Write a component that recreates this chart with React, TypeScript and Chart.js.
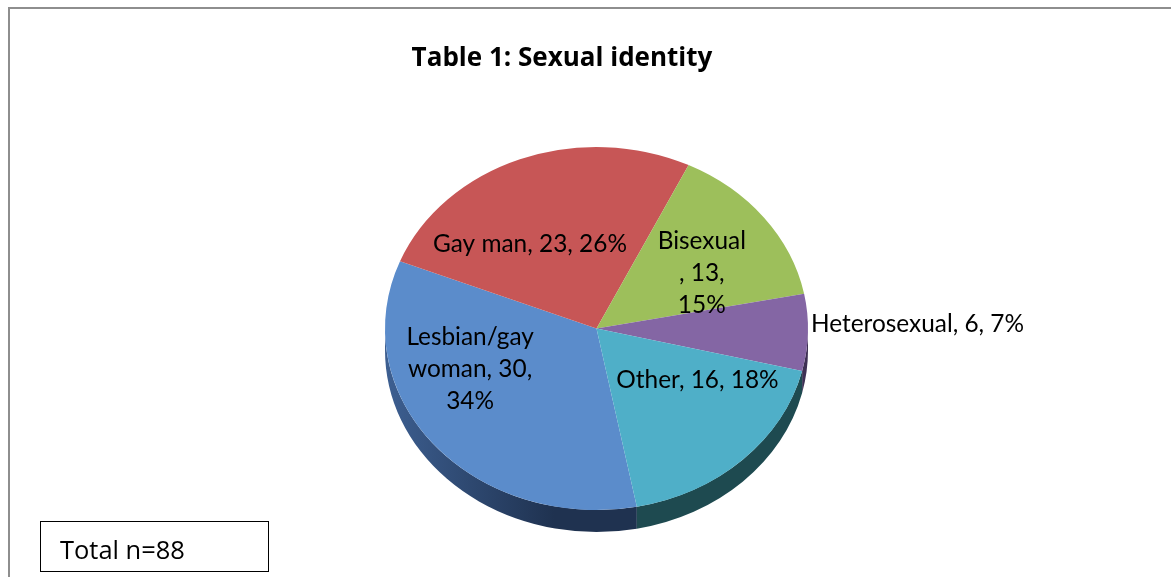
import React, { useEffect, useRef } from "react";
import { Chart, registerables } from "chart.js";

Chart.register(...registerables);

// ---- data ----
const titleText = "Table 1: Sexual identity";
const totalText = "Total n=88";
const categories = ["Lesbian/gay woman", "Gay man", "Bisexual", "Heterosexual", "Other"];
const counts = [30, 23, 13, 6, 16];
// label text as wrapped by the original chart
const labelLines = [
  ["Lesbian/gay", "woman, 30,", "34%"],
  ["Gay man, 23, 26%"],
  ["Bisexual", ", 13,", "15%"],
  ["Heterosexual, 6, 7%"],
  ["Other, 16, 18%"],
];

// ---- styles ----
const sliceColors = ["#5b8ccb", "#c75656", "#9dbf5b", "#8466a4", "#4fafc8"];
const sideColorsLight = ["#3d5f91", "#7a2f2e", "#5e7535", "#4d3b66", "#2a6571"];
const sideColorsDark = ["#1f3250", "#5a2322", "#465a28", "#3e3054", "#1e4a50"];
// label placement: angle shift from slice middle (deg), radius fraction, alignment
const labelShift = [19.4, -12.8, 5.6, -2.8, -15.8];
const labelRadius = [0.637, 0.562, 0.587, 1.0, 0.554];
const labelAlign: CanvasTextAlign[] = ["center", "center", "center", "left", "center"];

const LABEL_FONT = "Lato, 'Open Sans', sans-serif";
const TITLE_FONT = "'Open Sans', Lato, sans-serif";
const TILT = 181.5 / 211.5;
const DEPTH = 22;
const LINE_H = 32;
const CAP_H = 17;

function fitSize(ctx: CanvasRenderingContext2D, text: string, weight: string, family: string, targetW: number) {
  ctx.font = `${weight} 24px ${family}`;
  const w = ctx.measureText(text).width || 1;
  return (24 * targetW) / w;
}

const tiltPlugin = {
  id: "tilt3d",
  beforeDatasetsDraw(chart: any) {
    const meta = chart.getDatasetMeta(0);
    const arcs = meta.data;
    if (!arcs.length) return;
    const ctx: CanvasRenderingContext2D = chart.ctx;
    const { x, y, outerRadius } = arcs[0].getProps(["x", "y", "outerRadius"], true);
    const R = outerRadius;
    const ry = R * TILT;
    arcs.forEach((arc: any, i: number) => {
      const { startAngle, endAngle } = arc.getProps(["startAngle", "endAngle"], true);
      for (let k = -2; k <= 2; k++) {
        const s = Math.max(startAngle + k * 2 * Math.PI, 0);
        const e = Math.min(endAngle + k * 2 * Math.PI, Math.PI);
        if (e <= s) continue;
        const g = ctx.createLinearGradient(x - R, 0, x + R, 0);
        g.addColorStop(0, sideColorsLight[i]);
        g.addColorStop(0.4, sideColorsDark[i]);
        g.addColorStop(1, sideColorsDark[i]);
        ctx.beginPath();
        ctx.ellipse(x, y, R, ry, 0, s, e, false);
        ctx.ellipse(x, y + DEPTH, R, ry, 0, e, s, true);
        ctx.closePath();
        ctx.fillStyle = g;
        ctx.fill();
      }
    });
    ctx.save();
    ctx.translate(x, y);
    ctx.scale(1, TILT);
    ctx.translate(-x, -y);
  },
  afterDatasetsDraw(chart: any) {
    const ctx: CanvasRenderingContext2D = chart.ctx;
    ctx.restore();
    const meta = chart.getDatasetMeta(0);
    const arcs = meta.data;
    if (!arcs.length) return;
    const { x, y, outerRadius } = arcs[0].getProps(["x", "y", "outerRadius"], true);
    ctx.save();
    ctx.fillStyle = "#000";
    const size = fitSize(ctx, labelLines[1][0], "normal", LABEL_FONT, 194);
    ctx.font = `${size}px ${LABEL_FONT}`;
    arcs.forEach((arc: any, i: number) => {
      const { startAngle, endAngle } = arc.getProps(["startAngle", "endAngle"], true);
      const mid = (startAngle + endAngle) / 2 + (labelShift[i] * Math.PI) / 180;
      const r = outerRadius * labelRadius[i];
      let px = x + r * Math.cos(mid);
      const py = y + r * Math.sin(mid) * TILT;
      if (labelAlign[i] === "left") px += 3;
      ctx.textAlign = labelAlign[i];
      ctx.textBaseline = "alphabetic";
      const lines = labelLines[i];
      const first = py - ((lines.length - 1) * LINE_H) / 2 + CAP_H / 2;
      lines.forEach((ln, j) => ctx.fillText(ln, px, first + j * LINE_H));
    });
    ctx.restore();
  },
  afterDraw(chart: any) {
    const ctx: CanvasRenderingContext2D = chart.ctx;
    ctx.save();
    ctx.fillStyle = "#000";
    ctx.textBaseline = "alphabetic";
    ctx.textAlign = "center";
    const ts = fitSize(ctx, titleText, "bold", TITLE_FONT, 301);
    ctx.font = `bold ${ts}px ${TITLE_FONT}`;
    ctx.fillText(titleText, 562, 66);
    // total box
    ctx.strokeStyle = "#000";
    ctx.lineWidth = 1;
    ctx.strokeRect(40.5, 521.5, 228, 50);
    ctx.textAlign = "left";
    const ns = fitSize(ctx, totalText, "normal", TITLE_FONT, 125);
    ctx.font = `${ns}px ${TITLE_FONT}`;
    ctx.fillText(totalText, 60, 559);
    ctx.restore();
  },
};

export default function App() {
  const ref = useRef<HTMLCanvasElement>(null);
  useEffect(() => {
    const chart = new Chart(ref.current!, {
      type: "pie",
      data: {
        labels: categories,
        datasets: [
          {
            data: counts,
            backgroundColor: sliceColors,
            borderWidth: 0,
            hoverOffset: 0,
            offset: 0,
          },
        ],
      },
      options: {
        responsive: false,
        animation: false,
        rotation: 169,
        layout: { padding: { left: 385, right: 363, top: 117, bottom: 37 } },
        plugins: {
          legend: { display: false },
          tooltip: { enabled: false },
          title: { display: false },
        },
      },
      plugins: [tiltPlugin],
    } as any);
    return () => chart.destroy();
  }, []);
  return (
    <div
      style={{
        position: "absolute",
        left: 0,
        top: 0,
        width: 1171,
        height: 577,
        overflow: "hidden",
        background: "#fff",
      }}
    >
      <div
        style={{
          position: "absolute",
          left: 8,
          top: 7,
          width: 1300,
          height: 700,
          borderTop: "2px solid #8e8e8e",
          borderLeft: "2px solid #8e8e8e",
        }}
      />
      <canvas
        ref={ref}
        width={1171}
        height={577}
        style={{ position: "absolute", left: 0, top: 0 }}
      />
    </div>
  );
}
